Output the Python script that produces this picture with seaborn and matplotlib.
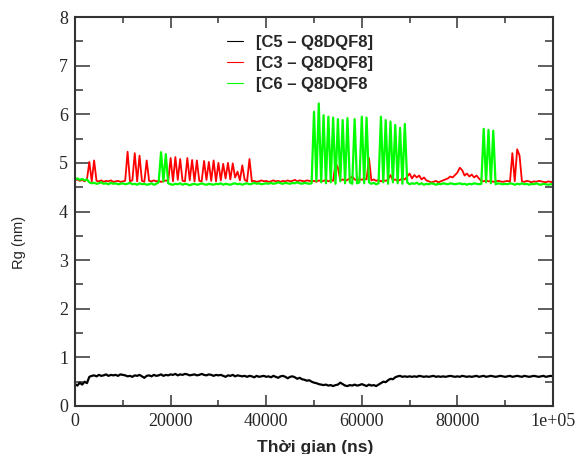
#!/usr/bin/env python3

import numpy as np
import pandas as pd
import seaborn as sns
import matplotlib
matplotlib.use("Agg")
import matplotlib.pyplot as plt
from matplotlib.ticker import MultipleLocator

# sampling every 500 ns, 0 .. 100000
time_ns = np.arange(0, 100001, 500)

rg_c5 = [
    0.45, 0.42, 0.48, 0.44, 0.50, 0.47, 0.60, 0.62, 0.63, 0.61, 0.64, 0.62, 0.63, 0.65, 0.62, 0.64, 0.63, 0.64, 0.62, 0.65,
    0.64, 0.63, 0.61, 0.62, 0.60, 0.63, 0.62, 0.64, 0.61, 0.58, 0.62, 0.63, 0.61, 0.64, 0.62, 0.63, 0.65, 0.62, 0.64, 0.63,
    0.65, 0.64, 0.66, 0.63, 0.65, 0.64, 0.66, 0.65, 0.63, 0.64, 0.65, 0.63, 0.64, 0.66, 0.64, 0.63, 0.65, 0.64, 0.62, 0.64,
    0.63, 0.64, 0.62, 0.60, 0.63, 0.62, 0.64, 0.61, 0.63, 0.62, 0.61, 0.62, 0.60, 0.62, 0.61, 0.59, 0.62, 0.60, 0.61, 0.62,
    0.60, 0.61, 0.59, 0.62, 0.60, 0.58, 0.61, 0.62, 0.60, 0.57, 0.60, 0.61, 0.59, 0.56, 0.58, 0.55, 0.54, 0.52, 0.53, 0.50,
    0.48, 0.47, 0.45, 0.44, 0.43, 0.44, 0.42, 0.43, 0.41, 0.43, 0.44, 0.48, 0.45, 0.42, 0.41, 0.43, 0.42, 0.44, 0.42, 0.43,
    0.45, 0.43, 0.41, 0.44, 0.42, 0.43, 0.41, 0.44, 0.47, 0.50, 0.49, 0.53, 0.56, 0.55, 0.59, 0.61, 0.62, 0.60, 0.61, 0.60,
    0.61, 0.60, 0.61, 0.60, 0.62, 0.61, 0.60, 0.61, 0.60, 0.61, 0.62, 0.60, 0.61, 0.60, 0.61, 0.60, 0.61, 0.62, 0.61, 0.60,
    0.61, 0.60, 0.62, 0.61, 0.60, 0.61, 0.60, 0.61, 0.62, 0.60, 0.61, 0.62, 0.60, 0.61, 0.62, 0.61, 0.60, 0.61, 0.62, 0.61,
    0.60, 0.61, 0.62, 0.60, 0.61, 0.62, 0.61, 0.60, 0.62, 0.61, 0.60, 0.61, 0.62, 0.61, 0.60, 0.61, 0.62, 0.60, 0.61, 0.62,
    0.61,
]

rg_c3 = [
    4.64, 4.66, 4.63, 4.65, 4.62, 4.66, 5.02, 4.62, 5.05, 4.63, 4.62, 4.64, 4.61, 4.63, 4.62, 4.64, 4.61, 4.62, 4.63, 4.61,
    4.62, 4.63, 5.23, 4.62, 4.64, 5.20, 4.62, 5.15, 4.63, 4.61, 5.05, 4.63, 4.62, 4.64, 4.62, 4.63, 4.61, 4.62, 4.64, 4.62,
    5.10, 4.62, 5.12, 4.65, 5.08, 4.63, 4.62, 5.10, 4.64, 5.06, 4.62, 5.05, 4.63, 4.62, 5.04, 4.65, 5.02, 4.63, 5.05, 4.62,
    5.00, 4.64, 4.98, 4.68, 5.00, 4.66, 4.99, 4.70, 4.82, 4.64, 4.95, 4.65, 4.62, 5.08, 4.62, 4.63, 4.61, 4.62, 4.64, 4.62,
    4.63, 4.61, 4.62, 4.64, 4.62, 4.63, 4.61, 4.63, 4.62, 4.64, 4.62, 4.63, 4.65, 4.62, 4.64, 4.63, 4.62, 4.64, 4.63, 4.62,
    4.63, 4.61, 4.64, 4.62, 4.63, 4.65, 4.62, 4.64, 4.63, 5.00, 4.90, 4.64, 4.66, 4.63, 4.65, 4.68, 4.72, 4.66, 4.64, 4.67,
    4.65, 4.68, 4.66, 5.10, 4.64, 4.66, 4.63, 4.65, 4.62, 4.64, 4.63, 4.66, 4.75, 4.64, 4.66, 4.63, 4.65, 4.68, 4.66, 4.72,
    4.78, 4.68, 4.75, 4.70, 4.74, 4.66, 4.70, 4.64, 4.62, 4.60, 4.61, 4.63, 4.60, 4.62, 4.64, 4.66, 4.68, 4.72, 4.70, 4.75,
    4.80, 4.90, 4.85, 4.74, 4.78, 4.72, 4.76, 4.70, 4.74, 4.68, 4.63, 4.62, 4.64, 4.62, 4.63, 4.61, 4.62, 4.63, 4.62, 4.61,
    4.62, 4.63, 4.61, 5.20, 4.62, 5.28, 5.15, 4.62, 4.61, 4.63, 4.62, 4.60, 4.62, 4.61, 4.63, 4.62, 4.61, 4.60, 4.62, 4.61,
    4.60,
]

rg_c6 = [
    4.66, 4.68, 4.65, 4.67, 4.64, 4.66, 4.60, 4.58, 4.59, 4.57, 4.58, 4.60, 4.57, 4.58, 4.56, 4.59, 4.57, 4.58, 4.56, 4.57,
    4.58, 4.56, 4.57, 4.59, 4.56, 4.57, 4.55, 4.58, 4.56, 4.57, 4.55, 4.56, 4.58, 4.55, 4.57, 4.60, 5.22, 4.62, 5.18, 4.58,
    4.56, 4.55, 4.57, 4.56, 4.58, 4.55, 4.57, 4.56, 4.54, 4.56, 4.57, 4.55, 4.56, 4.58, 4.56, 4.55, 4.57, 4.56, 4.55, 4.57,
    4.56, 4.58, 4.55, 4.57, 4.56, 4.55, 4.57, 4.58, 4.56, 4.57, 4.55, 4.57, 4.58, 4.56, 4.57, 4.59, 4.57, 4.58, 4.56, 4.57,
    4.58, 4.57, 4.59, 4.57, 4.58, 4.60, 4.58, 4.57, 4.59, 4.58, 4.57, 4.59, 4.58, 4.60, 4.58, 4.57, 4.59, 4.58, 4.57, 4.58,
    6.05, 4.62, 6.22, 4.60, 5.98, 4.58, 5.95, 4.60, 5.93, 4.57, 5.90, 4.62, 5.88, 4.58, 5.92, 4.60, 4.57, 5.90, 4.58, 4.60,
    5.95, 4.58, 5.93, 4.60, 4.57, 4.59, 4.56, 4.58, 5.95, 4.60, 5.88, 4.57, 5.85, 4.60, 5.78, 4.58, 5.72, 4.57, 5.80, 4.60,
    4.56, 4.58, 4.57, 4.59, 4.56, 4.58, 4.55, 4.57, 4.56, 4.58, 4.57, 4.55, 4.57, 4.56, 4.58, 4.57, 4.56, 4.58, 4.57, 4.56,
    4.57, 4.58, 4.56, 4.57, 4.55, 4.57, 4.56, 4.58, 4.57, 4.56, 4.57, 5.70, 4.60, 5.68, 4.58, 5.66, 4.56, 4.58, 4.57, 4.56,
    4.57, 4.56, 4.58, 4.57, 4.55, 4.57, 4.56, 4.58, 4.56, 4.57, 4.55, 4.57, 4.56, 4.58, 4.56, 4.55, 4.57, 4.56, 4.55, 4.56,
    4.56,
]

series_labels = ["[C5 – Q8DQF8]", "[C3 – Q8DQF8]", "[C6 – Q8DQF8"]
series_colors = ["black", "#ff0000", "#00ff00"]
series_widths = [1.6, 1.3, 1.6]

x_ticks = [0, 20000, 40000, 60000, 80000, 100000]
x_tick_labels = ["0", "20000", "40000", "60000", "80000", "1e+05"]
y_ticks = [0, 1, 2, 3, 4, 5, 6, 7, 8]


def ShowRg():
    sns.set_style("ticks")
    plt.rcParams["font.family"] = ["Liberation Sans", "DejaVu Sans"]

    fig = plt.figure(figsize=(5.82, 4.54), dpi=100)
    ax = fig.add_axes([75/582, 48/454, 478/582, 389/454])

    for vals, lab, col, lw in zip([rg_c5, rg_c3, rg_c6], series_labels,
                                  series_colors, series_widths):
        df = pd.DataFrame({"t": time_ns, "rg": vals})
        sns.lineplot(data=df, x="t", y="rg", color=col, label=lab,
                     linewidth=lw, estimator=None, sort=False, ax=ax)

    ax.set_xlim(0, 100000)
    ax.set_ylim(0, 8)
    ax.set_xticks(x_ticks, x_tick_labels)
    ax.set_yticks(y_ticks)
    ax.xaxis.set_minor_locator(MultipleLocator(10000))
    ax.yaxis.set_minor_locator(MultipleLocator(0.5))

    for lab in ax.get_xticklabels() + ax.get_yticklabels():
        lab.set_family(["Liberation Serif", "DejaVu Serif"])
        lab.set_fontsize(13)

    ax.tick_params(axis="both", which="both", direction="in",
                   top=True, right=True, width=1.1, color="#333333")
    ax.tick_params(axis="x", which="major", length=8, pad=5)
    ax.tick_params(axis="x", which="minor", length=4)
    ax.tick_params(axis="y", which="major", length=11, pad=5)
    ax.tick_params(axis="y", which="minor", length=5.5)
    for sp in ax.spines.values():
        sp.set_linewidth(1.5)
        sp.set_color("#333333")

    ax.set_xlabel("Thời gian (ns)", fontsize=12.5, fontweight="bold")
    ax.set_ylabel("Rg (nm)", fontsize=10.5)
    ax.xaxis.set_label_coords(0.502, -0.087)
    ax.yaxis.set_label_coords(-0.103, 0.42)

    leg = ax.legend(loc="upper left", bbox_to_anchor=(0.318, 0.953),
                    frameon=False, handlelength=0.95, handletextpad=0.8,
                    labelspacing=0.36, borderpad=0, borderaxespad=0,
                    prop={"weight": "bold", "size": 12})
    for line in leg.get_lines():
        line.set_linewidth(0.8)

    fig.savefig("out.png", dpi=100)


if __name__ == "__main__":
    assert len(rg_c5) == len(rg_c3) == len(rg_c6) == len(time_ns)
    ShowRg()
